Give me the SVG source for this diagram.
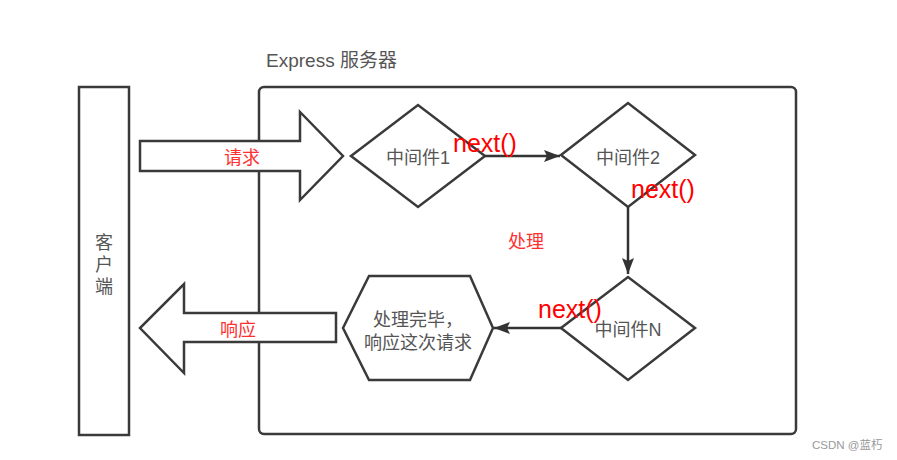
<svg xmlns="http://www.w3.org/2000/svg" width="897" height="460" viewBox="0 0 897 460">
<defs>
<style>
.box{fill:#fff;stroke:#3a3a3a;stroke-width:2.5}
.shp{fill:#fff;stroke:#3a3a3a;stroke-width:2.5;stroke-linejoin:miter}
.lbl{font-family:"Liberation Sans","Noto Sans CJK SC",sans-serif;font-size:18px;fill:#555;text-anchor:middle}
.red{font-family:"Liberation Sans","Noto Sans CJK SC",sans-serif;font-size:18px;fill:#ff3030;text-anchor:middle}
.nxt{font-family:"Liberation Sans",sans-serif;font-size:25px;fill:#ff0000}
.ln{stroke:#333;stroke-width:2.5;fill:none}
</style>
<marker id="ahb" markerWidth="16" markerHeight="12" refX="16" refY="6" orient="auto" markerUnits="userSpaceOnUse" viewBox="0 0 16 12">
<path d="M0,0 L16,6 L0,12 L3,6 z" fill="#333"/>
</marker>
</defs>
<rect width="897" height="460" fill="#fff"/>

<g id="server">
<rect class="box" x="259" y="87" width="537" height="347" rx="5"/>
<text x="266" y="67" font-family="'Liberation Sans','Noto Sans CJK SC',sans-serif" font-size="19" fill="#555">Express 服务器</text>
</g>

<g id="client">
<rect class="box" x="79" y="87" width="50" height="348"/>
<text class="lbl" x="104" y="249" font-size="17">客</text>
<text class="lbl" x="104" y="271" font-size="17">户</text>
<text class="lbl" x="104" y="293" font-size="17">端</text>
</g>

<g id="request">
<path class="shp" d="M140,141 L300,141 L300,112 L343,156 L300,200 L300,171 L140,171 Z"/>
<text class="red" x="242" y="164">请求</text>
</g>

<g id="response">
<path class="shp" d="M336,313 L184,313 L184,284 L140,328 L184,373 L184,342 L336,342 Z"/>
<text class="red" x="238" y="336">响应</text>
</g>

<g id="mw1">
<path class="shp" d="M351,156 L418,105 L485,156 L418,207 Z"/>
<text class="lbl" x="418" y="164">中间件1</text>
</g>

<g id="mw2">
<path class="shp" d="M561,155 L628,103 L695,155 L628,207 Z"/>
<text class="lbl" x="628" y="164">中间件2</text>
</g>

<g id="mwN">
<path class="shp" d="M561,328 L628,277 L695,328 L628,380 Z"/>
<text class="lbl" x="628" y="336">中间件N</text>
</g>

<g id="done">
<path class="shp" d="M343,328 L369,276 L470,276 L493,328 L470,380 L369,380 Z"/>
<text class="lbl" x="418" y="326">处理完毕，</text>
<text class="lbl" x="418" y="349">响应这次请求</text>
</g>

<g id="connectors">
<line class="ln" x1="485" y1="156" x2="560" y2="156" marker-end="url(#ahb)"/>
<line class="ln" x1="628" y1="207" x2="628" y2="274" marker-end="url(#ahb)"/>
<line class="ln" x1="561" y1="328" x2="494" y2="328" marker-end="url(#ahb)"/>
</g>

<g id="labels">
<text class="nxt" x="453" y="152">next()</text>
<text class="nxt" x="631" y="198">next()</text>
<text class="nxt" x="538" y="318">next()</text>
<text class="red" x="526" y="248">处理</text>
<text x="812" y="449" font-family="'Liberation Sans','Noto Sans CJK SC',sans-serif" font-size="11.5" fill="#999">CSDN @蓝朽</text>
</g>
</svg>
